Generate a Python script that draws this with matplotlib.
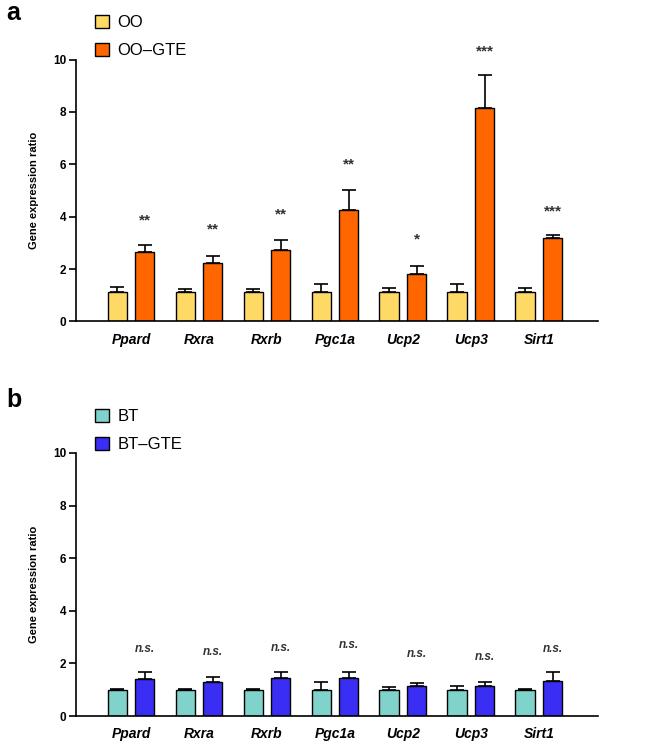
import matplotlib
matplotlib.use("Agg")
import matplotlib.pyplot as plt
import numpy as np

plt.rcParams["font.family"] = ["Liberation Sans", "DejaVu Sans"]

genes = ["Ppard", "Rxra", "Rxrb", "Pgc1a", "Ucp2", "Ucp3", "Sirt1"]

# panel a
oo_mean = [1.12, 1.12, 1.12, 1.12, 1.12, 1.12, 1.12]
oo_err = [0.18, 0.10, 0.10, 0.32, 0.15, 0.32, 0.15]
oogte_mean = [2.66, 2.24, 2.74, 4.26, 1.82, 8.14, 3.19]
oogte_err = [0.25, 0.27, 0.36, 0.77, 0.30, 1.25, 0.10]
sig_a = ["**", "**", "**", "**", "*", "***", "***"]
sig_a_y = [3.85, 3.5, 4.1, 6.0, 3.13, 10.3, 4.2]

# panel b
bt_mean = [1.0, 1.0, 1.0, 1.0, 1.0, 1.0, 1.0]
bt_err = [0.03, 0.03, 0.03, 0.30, 0.10, 0.14, 0.03]
btgte_mean = [1.40, 1.29, 1.45, 1.45, 1.14, 1.14, 1.35]
btgte_err = [0.28, 0.18, 0.23, 0.23, 0.11, 0.16, 0.33]
sig_b = ["n.s."] * 7
sig_b_y = [2.54, 2.43, 2.6, 2.7, 2.35, 2.25, 2.54]

yticks = [0, 2, 4, 6, 8, 10]


def draw_panel(ax, m1, e1, m2, e2, c1, c2, labels, sig, sig_y, sig_style):
    x = np.arange(len(genes))
    w = 0.29
    off = 0.2
    ax.bar(x - off, m1, w, color=c1, edgecolor="black", linewidth=1.0,
           label=labels[0], zorder=2)
    ax.bar(x + off, m2, w, color=c2, edgecolor="black", linewidth=1.0,
           label=labels[1], zorder=2)
    ax.errorbar(x - off, m1, yerr=[np.zeros(len(m1)), e1], fmt="none",
                ecolor="black", elinewidth=1.2, capsize=5, capthick=1.2, zorder=1)
    ax.errorbar(x + off, m2, yerr=[np.zeros(len(m2)), e2], fmt="none",
                ecolor="black", elinewidth=1.2, capsize=5, capthick=1.2, zorder=1)
    for xi, s, yi in zip(x, sig, sig_y):
        ax.text(xi + off, yi, s, ha="center", va="center", clip_on=False,
                **sig_style)

    ax.set_xlim(-0.81, 6.87)
    ax.set_ylim(0, 10)
    ax.set_yticks(yticks)
    ax.set_yticklabels([str(t) for t in yticks], fontsize=8.5, fontweight="bold")
    ax.set_xticks(x)
    ax.set_xticklabels(genes, fontsize=10, fontweight="bold", style="italic")
    ax.tick_params(axis="x", length=0, pad=8)
    ax.tick_params(axis="y", length=5, width=1.2, pad=2)
    ax.spines["top"].set_visible(False)
    ax.spines["right"].set_visible(False)
    ax.spines["left"].set_linewidth(1.2)
    ax.spines["bottom"].set_linewidth(1.2)
    ax.set_ylabel("Gene expression ratio", fontsize=8, fontweight="bold",
                  labelpad=10)


fig = plt.figure(figsize=(6.66, 7.44), dpi=100)
ax1 = fig.add_axes([0.114, 0.568, 0.784, 0.352])
ax2 = fig.add_axes([0.114, 0.0376, 0.784, 0.3536])

draw_panel(ax1, oo_mean, oo_err, oogte_mean, oogte_err, "#FFD966", "#FF6600",
           ["OO", "OO\u2013GTE"], sig_a, sig_a_y,
           dict(fontsize=11, fontweight="bold", color="#333333"))
draw_panel(ax2, bt_mean, bt_err, btgte_mean, btgte_err, "#7FD3CB", "#3A2EF5",
           ["BT", "BT\u2013GTE"], sig_b, sig_b_y,
           dict(fontsize=8.5, fontweight="bold", style="italic", color="#333333"))

for ax, ytop in [(ax1, 1 - 8 / 744), (ax2, 1 - 402 / 744)]:
    ax.legend(loc="upper left", bbox_to_anchor=(88 / 666, ytop),
              bbox_transform=fig.transFigure, frameon=False, fontsize=12,
              handlelength=0.85, handleheight=0.85, handletextpad=0.5,
              labelspacing=0.75, borderaxespad=0)

fig.text(6 / 666, 1 - 1 / 744, "a", fontsize=18, fontweight="bold", va="top")
fig.text(6 / 666, 1 - 388 / 744, "b", fontsize=18, fontweight="bold", va="top")

fig.savefig("out.png", dpi=100)
